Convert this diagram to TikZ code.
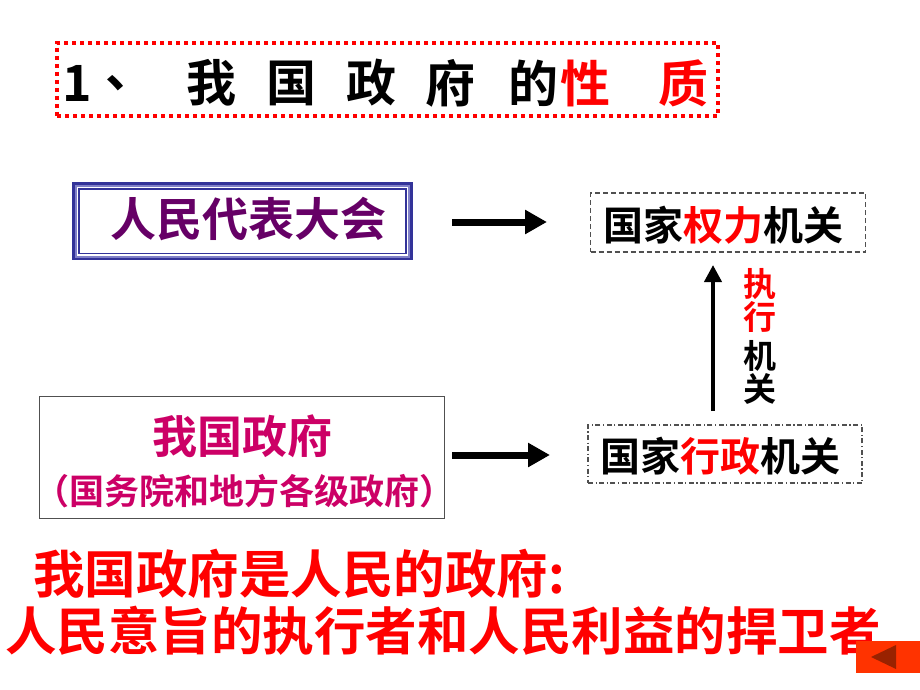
\documentclass[tikz,border=0pt]{standalone}
\usepackage{fontspec}
\newfontfamily\cjk{Noto Sans CJK SC Bold}
\usetikzlibrary{arrows.meta}
\definecolor{tred}{RGB}{255,0,0}
\definecolor{tpurple}{RGB}{102,0,102}
\definecolor{tmagenta}{RGB}{204,0,102}
\definecolor{tblue}{RGB}{51,51,153}
\definecolor{tlblue}{RGB}{128,128,200}
\definecolor{tgray}{RGB}{80,80,80}
\definecolor{btnorange}{RGB}{255,51,0}
\definecolor{btndark}{RGB}{153,34,0}
\tikzset{
  txt/.style={inner sep=0pt, anchor=center},
  f50/.style={txt, font=\cjk\fontsize{50}{60}\selectfont},
  f46/.style={txt, font=\cjk\fontsize{46}{55}\selectfont},
  f45/.style={txt, font=\cjk\fontsize{45}{54}\selectfont},
  f40/.style={txt, font=\cjk\fontsize{40}{48}\selectfont},
  f35/.style={txt, font=\cjk\fontsize{35}{42}\selectfont},
  f33/.style={txt, font=\cjk\fontsize{33}{40}\selectfont},
  f52/.style={txt, font=\cjk\fontsize{51.5}{60}\selectfont},
  dashbox/.style={draw=tgray, line width=1.2pt, dash pattern=on 5pt off 3pt, inner sep=0pt},
  dashdotbox/.style={draw=tgray, line width=1.2pt, dash pattern=on 5pt off 2.5pt on 1.2pt off 2.5pt, inner sep=0pt},
  harrow/.style={line width=7pt, -{Triangle[length=22pt,width=23pt]}},
  varrow/.style={line width=4pt, -{Triangle[length=17pt,width=17pt]}},
}
\begin{document}
\begin{tikzpicture}[x=1pt,y=-1pt]
\useasboundingbox (0,0) rectangle (920,690);
\fill[white] (0,0) rectangle (920,690);

% title box
\node[draw=tred, line width=4pt, dash pattern=on 4pt off 4pt, minimum width=661pt, minimum height=73pt, inner sep=0pt] (title) at (387.5,79.5) {};
\node[f50] (t1) at (77,83) {1};
\node[f50, anchor=west] (t2) at (105,83) {、};
\node[f50] (t3) at (211,83) {我};
\node[f50] (t4) at (291,83) {国};
\node[f50] (t5) at (371,83) {政};
\node[f50] (t6) at (450,83) {府};
\node[f50] (t7) at (533,83) {的};
\node[f50, text=tred] (t8) at (585,83) {性};
\node[f50, text=tred] (t9) at (683,83) {质};

% 人民代表大会 box
\draw[tblue, line width=2.5pt] (73.5,183.5) rectangle (411.5,259);
\draw[tlblue, line width=2pt] (76,186) rectangle (409,256.5);
\draw[tblue, line width=1.2pt] (79,189) rectangle (406,253.5);
\node[minimum width=338pt, minimum height=76pt, inner sep=0pt] (rd) at (242.5,221) {};
\node[f46, text=tpurple] (rdt) at (248,219) {人民代表大会};

% 国家权力机关 box
\node[dashbox, minimum width=275pt, minimum height=59pt] (qlbox) at (728,222.5) {};
\node[f40] (qlt) at (723,225) {国家\textcolor{tred}{权力}机关};

% 我国政府 box
\node[draw=tgray, line width=1pt, minimum width=405pt, minimum height=122pt, inner sep=0pt] (gov) at (242,457) {};
\node[f45, text=tmagenta] (govt1) at (242,436) {我国政府};
\node[f35, text=tmagenta] (govt2) at (244,491) {（国务院和地方各级政府）};

% 国家行政机关 box
\node[dashdotbox, minimum width=274pt, minimum height=58pt] (xzbox) at (725,454) {};
\node[f40] (xzt) at (720,456) {国家\textcolor{tred}{行政}机关};

% arrows
\coordinate (a1s) at (452,222);
\coordinate (a1e) at (547,222);
\coordinate (a2s) at (452,455);
\coordinate (a2e) at (550,455);
\coordinate (v1s) at (713,411);
\coordinate (v1e) at (713,265);
\draw[harrow] (a1s) -- (a1e);
\draw[harrow] (a2s) -- (a2e);
\draw[varrow] (v1s) -- (v1e);

% vertical label
\node[f33, text=tred] (l1) at (760,284) {执};
\node[f33, text=tred] (l2) at (760,317) {行};
\node[f33] (l3) at (760,356) {机};
\node[f33] (l4) at (760,389) {关};

% bottom text
\node[f52, text=tred, anchor=west] (b1) at (33,574) {我国政府是人民的政府:};
\node[f52, text=tred] (b2) at (443,631) {人民意旨的执行者和人民利益的捍卫者};

% button
\fill[btnorange] (856,641) rectangle (920,673);
\fill[btndark] (871,657) -- (896,645) -- (896,669) -- cycle;
\end{tikzpicture}
\end{document}
